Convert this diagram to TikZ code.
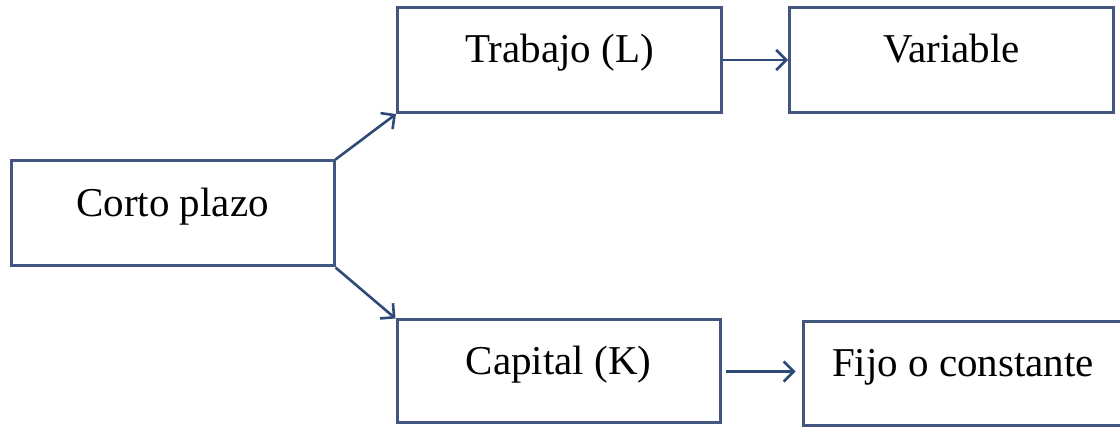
\documentclass[tikz,border=0pt]{standalone}
\usepackage{fontspec}
\setmainfont{Liberation Serif}
\usepackage{xcolor}
\usetikzlibrary{arrows.meta, positioning, calc}

\definecolor{boxcol}{RGB}{66,86,128}
\definecolor{arrowcol}{RGB}{46,74,118}

\tikzset{
    plazobox/.style={draw=boxcol, line width=1.5pt, rectangle, inner sep=0pt,
        minimum width=162pt, minimum height=52.5pt,
        font=\fontsize{20.5}{24}\selectfont, text height=13.5pt, text depth=10.5pt},
    flecha/.style={draw=arrowcol, line width=1.3pt, -{Straight Barb[length=5pt, width=10pt, line width=1.3pt]}}
}

\begin{document}
\begin{tikzpicture}[x=0.5pt, y=-0.5pt]
    \useasboundingbox (0,0) rectangle (1120,427);

    % Short term
    \node[plazobox, minimum width=161.5pt] (corto) at (172.5, 213.5) {Corto plazo};

    % Labour row
    \node[plazobox] (trabajo) at (559.5, 60) {Trabajo (L)};
    \node[plazobox] (variable) at (951.5, 60) {Variable};

    % Capital row
    \node[plazobox, minimum width=161.5pt, minimum height=51.5pt] (capital) at (558.5, 371.5) {Capital (K)};
    \node[plazobox, minimum width=160pt, minimum height=52pt] (fijo) at (963, 374) {Fijo o constante};

    % Arrows
    \draw[flecha] (corto.north east) -- (trabajo.south west);
    \draw[flecha] (corto.south east) -- (capital.north west);
    \draw[flecha] (trabajo.east) -- (variable.west);
    \draw[flecha, shorten <=2pt, shorten >=3pt] (capital.east) -- (capital.east -| fijo.west);
\end{tikzpicture}
\end{document}
